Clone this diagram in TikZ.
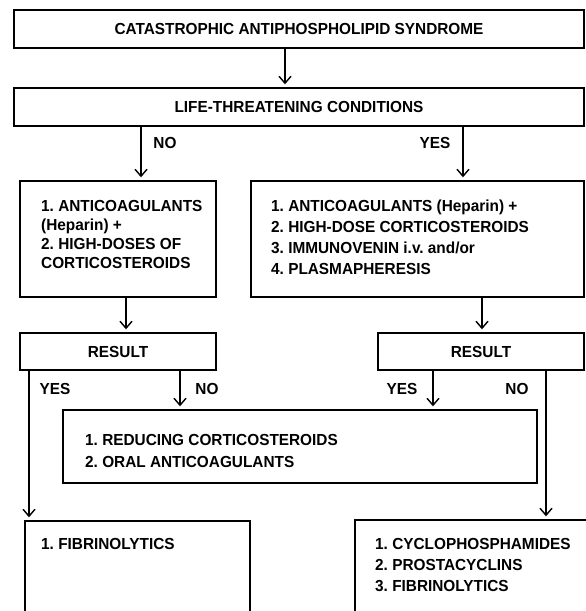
\documentclass[tikz,border=0pt]{standalone}
\usepackage{fontspec}
\setmainfont[FakeStretch=0.96]{Liberation Sans}
\usetikzlibrary{arrows.meta}
\frenchspacing
\begin{document}
\begin{tikzpicture}[x=1pt,y=-1pt,
  box/.style={draw, line width=1.4pt, inner sep=0pt, font=\bfseries\fontsize{16}{18}\selectfont},
  txt/.style={font=\bfseries\fontsize{16}{21}\selectfont, inner sep=0pt, anchor=north west, align=left},
  lbl/.style={font=\bfseries\fontsize{16}{18}\selectfont, inner sep=0pt},
  arr/.style={line width=1.4pt, -{Straight Barb[length=7pt,width=12pt]}, shorten >=3pt}]
\useasboundingbox[fill=white] (0,0) rectangle (586,611);

% boxes
\node[box, minimum width=570pt, minimum height=38pt] (caps) at (299,29) {CATASTROPHIC ANTIPHOSPHOLIPID SYNDROME};
\node[box, minimum width=570pt, minimum height=38pt] (life) at (299,107) {LIFE-THREATENING CONDITIONS};
\node[box, minimum width=196pt, minimum height=116pt] (lbox) at (118,239) {};
\node[box, minimum width=333pt, minimum height=116pt] (rbox) at (417.5,239) {};
\node[box, minimum width=196pt, minimum height=37pt] (lres) at (118,351.5) {RESULT};
\node[box, minimum width=206pt, minimum height=37pt] (rres) at (481,351.5) {RESULT};
\node[box, minimum width=474pt, minimum height=73pt] (mid) at (300,446.5) {};
\begin{scope}
\clip (0,0) rectangle (586,611);
\node[box, minimum width=225pt, minimum height=120pt] (bl) at (137.5,581) {};
\node[box, minimum width=246pt, minimum height=120pt] (br) at (478,580) {};
\end{scope}

% texts
\node[txt, font=\bfseries\fontsize{16}{18.9}\selectfont] (lboxt) at (41,200)
  {1. ANTICOAGULANTS\\(Heparin) +\\2. HIGH-DOSES OF\\CORTICOSTEROIDS};
\node[txt, font=\bfseries\fontsize{16}{21}\selectfont] (rboxt) at (271,200)
  {1. ANTICOAGULANTS (Heparin) +\\2. HIGH-DOSE CORTICOSTEROIDS\\3. IMMUNOVENIN i.v. and/or\\4. PLASMAPHERESIS};
\node[txt, font=\bfseries\fontsize{16}{22}\selectfont] (midt) at (85,434)
  {1. REDUCING CORTICOSTEROIDS\\2. ORAL ANTICOAGULANTS};
\node[txt] (blt) at (41,538) {1. FIBRINOLYTICS};
\node[txt, font=\bfseries\fontsize{16}{21}\selectfont] (brt) at (375,538)
  {1. CYCLOPHOSPHAMIDES\\2. PROSTACYCLINS\\3. FIBRINOLYTICS};

% connectors
\draw[arr] (caps.south -| 285,0) -- (life.north -| 285,0);
\draw[arr] (life.south -| 141,0) -- (lbox.north -| 141,0);
\draw[arr] (life.south -| 463,0) -- (rbox.north -| 463,0);
\draw[arr] (lbox.south -| 126,0) -- (lres.north -| 126,0);
\draw[arr] (rbox.south -| 482,0) -- (rres.north -| 482,0);
\draw[arr] (lres.south -| 29,0) -- (bl.north -| 29,0);
\draw[arr] (lres.south -| 180,0) -- (mid.north -| 180,0);
\draw[arr] (rres.south -| 433,0) -- (mid.north -| 433,0);
\draw[arr] (rres.south -| 546,0) -- (br.north -| 546,0);

% labels
\node[lbl] (no1) at (165,143) {NO};
\node[lbl] (yes1) at (435,143) {YES};
\node[lbl] (yes2) at (55,389) {YES};
\node[lbl] (no2) at (207,389) {NO};
\node[lbl] (yes3) at (402,389) {YES};
\node[lbl] (no3) at (517,389) {NO};
\end{tikzpicture}
\end{document}
